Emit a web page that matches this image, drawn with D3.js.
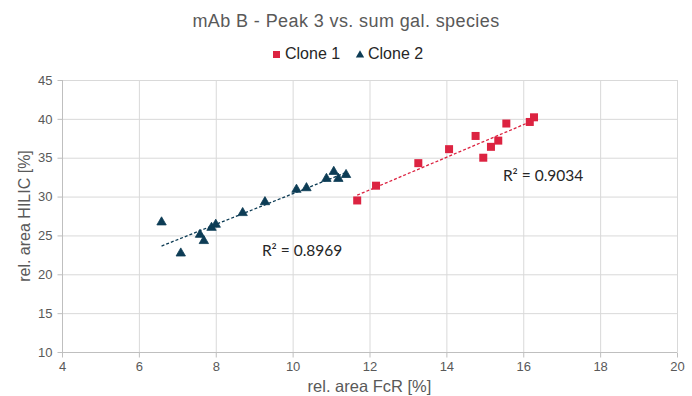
<!DOCTYPE html>
<html>
<head>
<meta charset="utf-8">
<script src="https://cdn.jsdelivr.net/npm/d3@7"></script>
<style>
  body { margin: 0; background: #fff; }
  svg { display: block; font-family: 'Liberation Sans', Arial, sans-serif; }
  .grid line { stroke: #d9d9d9; stroke-width: 1; }
  .axis path, .axis line { stroke: #bfbfbf; }
  .axis text { fill: #595959; font-size: 13px; }
</style>
</head>
<body>
<div id="chart"></div>
<script>
const clone1X = [11.68, 12.17, 13.27, 14.07, 14.76, 14.96, 15.16, 15.35, 15.56, 16.17, 16.28]
const clone1Y = [29.5, 31.4, 34.3, 36.1, 37.8, 35.0, 36.4, 37.2, 39.4, 39.6, 40.2]
const clone2X = [6.59, 7.09, 7.59, 7.69, 7.89, 8.0, 8.70, 9.28, 10.1, 10.36, 10.88, 11.07, 11.19, 11.39]
const clone2Y = [26.7, 22.7, 25.1, 24.3, 26.0, 26.4, 27.9, 29.3, 30.9, 31.1, 32.3, 33.2, 32.3, 32.8]
const seriesNames = ['Clone 1', 'Clone 2']
const r2Labels = ['R² = 0.9034', 'R² = 0.8969']
const xTicks = [4, 6, 8, 10, 12, 14, 16, 18, 20]
const yTicks = [10, 15, 20, 25, 30, 35, 40, 45]

const width = 692
const height = 396
const margin = { top: 80, right: 15, bottom: 44, left: 62 }

const red = '#dc2341'
const navy = '#0d3c55'

const svg = d3.select('#chart').append('svg')
  .attr('width', width)
  .attr('height', height)

const x = d3.scaleLinear().domain([4, 20]).range([margin.left, width - margin.right])
const y = d3.scaleLinear().domain([10, 45]).range([height - margin.bottom, margin.top])

// gridlines
svg.append('g').attr('class', 'grid')
  .selectAll('line.h').data(yTicks.slice(1)).join('line')
  .attr('x1', margin.left).attr('x2', width - margin.right)
  .attr('y1', d => y(d) + 0.5).attr('y2', d => y(d) + 0.5)
svg.append('g').attr('class', 'grid')
  .selectAll('line.v').data(xTicks.slice(1)).join('line')
  .attr('y1', margin.top).attr('y2', height - margin.bottom)
  .attr('x1', d => x(d) + 0.5).attr('x2', d => x(d) + 0.5)

// axes
svg.append('g').attr('class', 'axis')
  .attr('transform', `translate(0,${height - margin.bottom + 0.5})`)
  .call(d3.axisBottom(x).tickValues(xTicks).tickSize(5).tickPadding(4))
  .call(g => g.select('.domain').attr('d', `M${margin.left},0H${width - margin.right}`))

svg.append('g').attr('class', 'axis')
  .attr('transform', `translate(${margin.left + 0.5},0)`)
  .call(d3.axisLeft(y).tickValues(yTicks).tickSize(5).tickPadding(5))
  .call(g => g.select('.domain').attr('d', `M0,${margin.top}V${height - margin.bottom}`))

// titles
svg.append('text')
  .attr('x', 346).attr('y', 27)
  .attr('text-anchor', 'middle')
  .attr('fill', '#595959')
  .style('font-size', '18px')
  .style('letter-spacing', '0.4px')
  .text('mAb B - Peak 3 vs. sum gal. species')

svg.append('text')
  .attr('x', x(12)).attr('y', 392)
  .attr('text-anchor', 'middle')
  .attr('fill', '#595959')
  .style('font-size', '16.5px')
  .text('rel. area FcR [%]')

svg.append('text')
  .attr('transform', `translate(30,${(margin.top + height - margin.bottom) / 2}) rotate(-90)`)
  .attr('text-anchor', 'middle')
  .attr('fill', '#595959')
  .style('font-size', '16px')
  .text('rel. area HILIC [%]')

// linear fit for trendlines
function fit (xs, ys) {
  const mx = d3.mean(xs)
  const my = d3.mean(ys)
  const sxy = d3.sum(xs, (v, i) => (v - mx) * (ys[i] - my))
  const sxx = d3.sum(xs, v => (v - mx) ** 2)
  const m = sxy / sxx
  return { m, b: my - m * mx }
}

const triangle = d3.symbol().type(d3.symbolTriangle).size(38)

const series = [
  { name: seriesNames[0], xs: clone1X, ys: clone1Y, color: red, r2: r2Labels[0], r2At: [15.47, 32.0], shape: 'square' },
  { name: seriesNames[1], xs: clone2X, ys: clone2Y, color: navy, r2: r2Labels[1], r2At: [9.2, 22.35], shape: 'triangle' }
]

series.forEach(s => {
  const { m, b } = fit(s.xs, s.ys)
  const x0 = d3.min(s.xs)
  const x1 = d3.max(s.xs)
  svg.append('line')
    .attr('x1', x(x0)).attr('y1', y(m * x0 + b))
    .attr('x2', x(x1)).attr('y2', y(m * x1 + b))
    .attr('stroke', s.color)
    .attr('stroke-width', 1.3)
    .attr('stroke-dasharray', '3,2')

  const pts = s.xs.map((v, i) => [v, s.ys[i]])
  const g = svg.append('g')
  if (s.shape === 'square') {
    g.selectAll('rect').data(pts).join('rect')
      .attr('x', d => x(d[0]) - 4).attr('y', d => y(d[1]) - 4)
      .attr('width', 8).attr('height', 8)
      .attr('fill', s.color)
  } else {
    g.selectAll('path').data(pts).join('path')
      .attr('d', triangle)
      .attr('transform', d => `translate(${x(d[0])},${y(d[1])})`)
      .attr('fill', s.color)
      .attr('stroke', s.color)
      .attr('stroke-linejoin', 'round')
      .attr('stroke-width', 0.8)
  }

  svg.append('text')
    .attr('x', x(s.r2At[0])).attr('y', y(s.r2At[1]))
    .attr('fill', '#262626')
    .style('font-family', 'Lato, sans-serif')
    .style('font-size', '15.5px')
    .text(s.r2)
})

// legend
const legend = svg.append('g')
legend.append('rect').attr('x', 273).attr('y', 51).attr('width', 7).attr('height', 7).attr('fill', red)
legend.append('text').attr('x', 285).attr('y', 59).style('font-size', '16px').attr('fill', '#262626').text(seriesNames[0])
legend.append('path').attr('d', d3.symbol().type(d3.symbolTriangle).size(30))
  .attr('transform', 'translate(360,55)').attr('fill', navy)
legend.append('text').attr('x', 368).attr('y', 59).style('font-size', '16px').attr('fill', '#262626').text(seriesNames[1])
</script>
</body>
</html>
